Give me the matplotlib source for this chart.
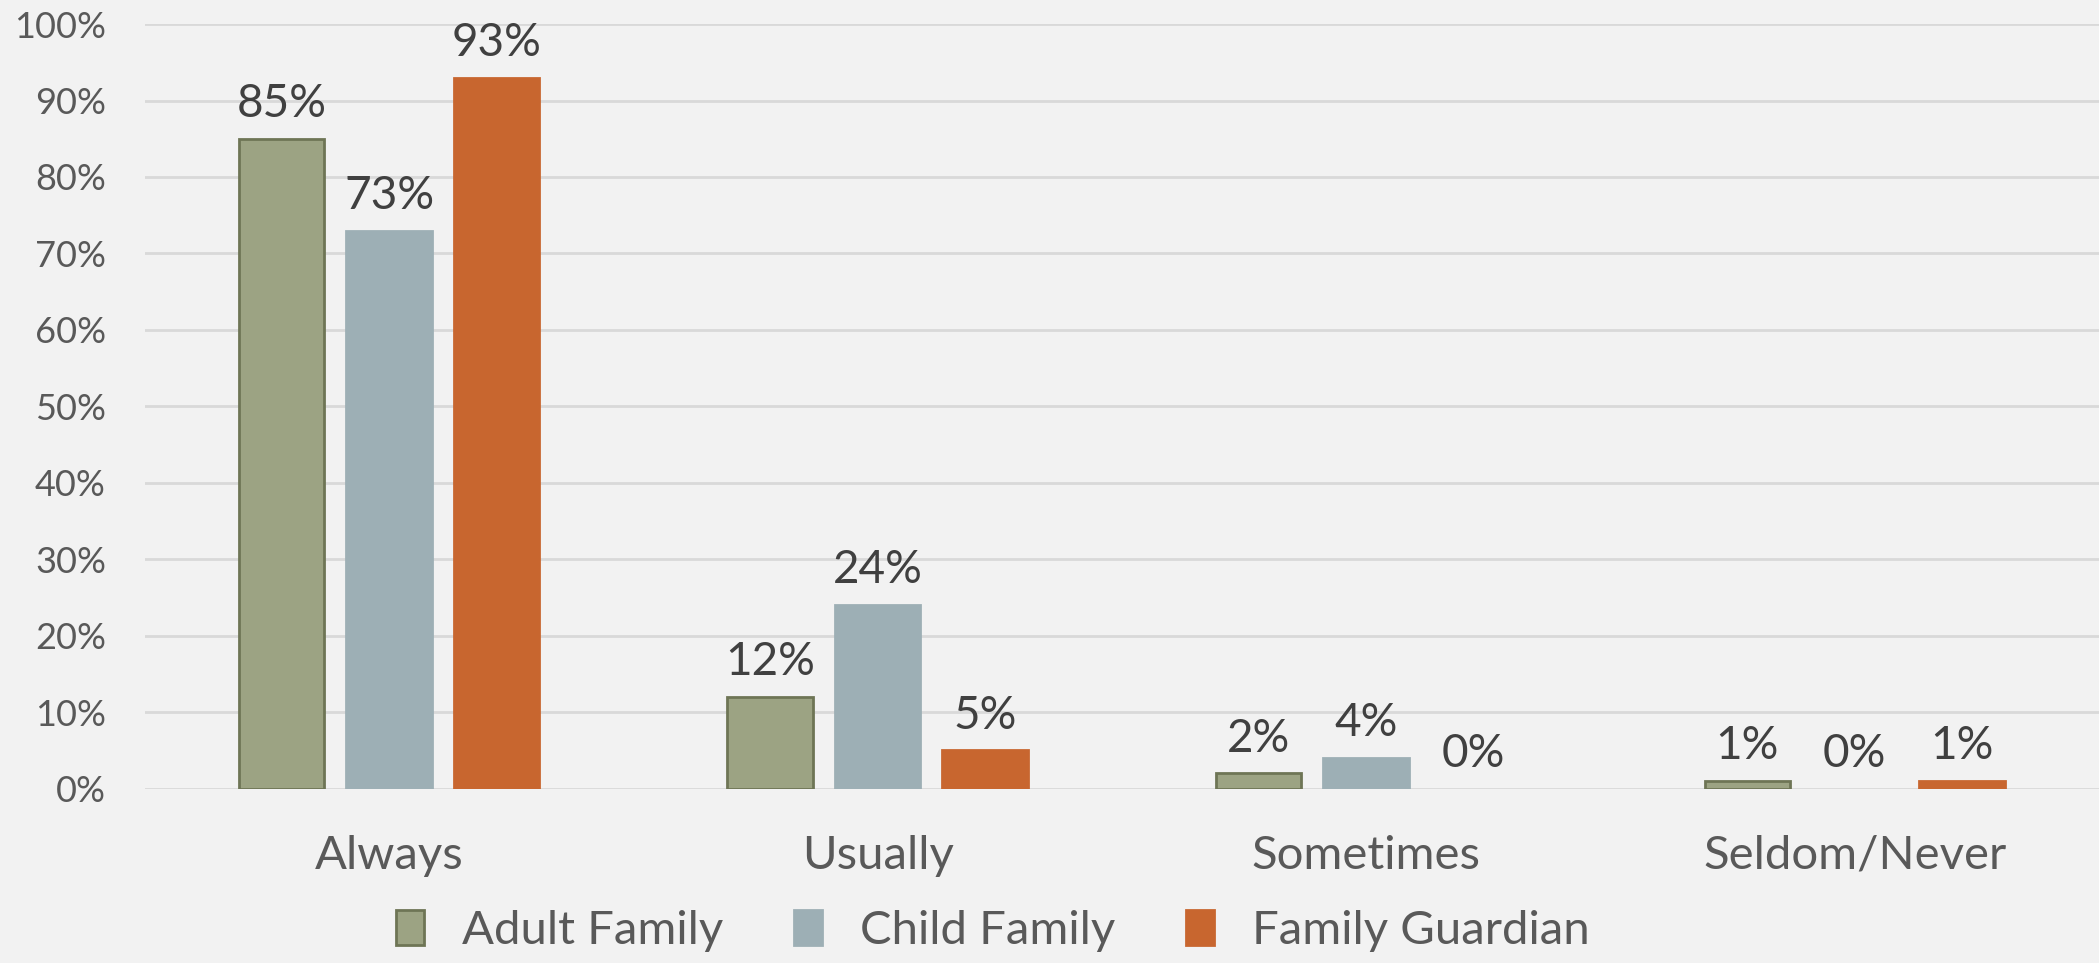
import numpy as np
import matplotlib
matplotlib.use("Agg")
from matplotlib import pyplot as plt
from matplotlib.ticker import PercentFormatter

categories = ["Always", "Usually", "Sometimes", "Seldom/Never"]
series_names = ["Adult Family", "Child Family", "Family Guardian"]
adult = [85, 12, 2, 1]
child = [73, 24, 4, 0]
guardian = [93, 5, 0, 1]
yticks = [0, 10, 20, 30, 40, 50, 60, 70, 80, 90, 100]

fills = ["#9CA383", "#9DAFB5", "#C8662F"]
edges = ["#6E7555", "#9DAFB5", "#C8662F"]
bg = "#F2F2F2"

plt.rcParams['font.family'] = ['Lato', 'DejaVu Sans']

fig = plt.figure(figsize=(20.99, 9.63), dpi=100, facecolor=bg)
ax = fig.add_axes([0.069, 0.181, 0.931, 0.794], facecolor=bg)

x = np.arange(len(categories))
width = 0.175
offsets = [-0.22, 0, 0.22]
for vals, name, fc, ec, off in zip([adult, child, guardian], series_names, fills, edges, offsets):
    lw = [2 if v > 0 else 0 for v in vals]
    bars = ax.bar(x + off, vals, width, color=fc, edgecolor=ec, linewidth=lw, label=name, zorder=3)
    for b, v in zip(bars, vals):
        ax.annotate(f"{v}%", (b.get_x() + b.get_width() / 2, v), xytext=(0, 10),
                    textcoords="offset points", ha="center", va="bottom",
                    fontsize=33, color="#404040", zorder=4)

ax.set_xlim(-0.5, 3.5)
ax.set_ylim(0, 100)
ax.set_yticks(yticks)
ax.yaxis.set_major_formatter(PercentFormatter(decimals=0))
ax.set_xticks(x)
ax.set_xticklabels(categories)
ax.tick_params(axis="y", length=0, pad=28, labelsize=26, labelcolor="#595959")
ax.tick_params(axis="x", length=0, pad=33, labelsize=34, labelcolor="#595959")
ax.grid(axis="y", color="#D9D9D9", linewidth=2, zorder=0)
for s in ax.spines.values():
    s.set_visible(False)

leg = fig.legend(loc="center", bbox_to_anchor=(0.473, 0.033), ncol=3, frameon=False,
                 fontsize=34, handlelength=0.6, handleheight=0.75, columnspacing=1.5,
                 handletextpad=0.8, labelcolor="#595959")

fig.savefig("out.png", dpi=100, facecolor=bg)
